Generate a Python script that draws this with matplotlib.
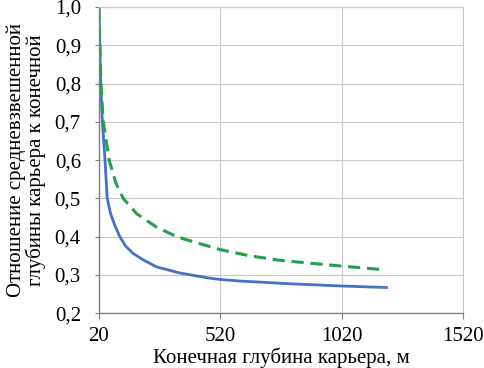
import numpy as np
import matplotlib
matplotlib.use("Agg")
import matplotlib.pyplot as plt
from matplotlib.ticker import FuncFormatter

# Данные
depth_blue = [20, 27, 34, 45, 54, 68, 85, 106, 130, 161, 200, 257, 353, 470, 520, 600, 800, 1020, 1204]
ratio_blue = [1.0, 0.8, 0.7, 0.6, 0.5, 0.46, 0.43, 0.4, 0.375, 0.356, 0.34, 0.321, 0.305,
              0.292, 0.288, 0.284, 0.277, 0.271, 0.267]

depth_green = [20, 28, 38, 62, 90, 120, 175, 257, 326, 374, 520, 640, 765, 900, 1020, 1185]
ratio_green = [1.0, 0.8, 0.7, 0.6, 0.54, 0.5, 0.46, 0.425, 0.404, 0.393, 0.366, 0.35,
               0.338, 0.33, 0.323, 0.314]

x_ticks = [20, 520, 1020, 1520]
y_ticks = [0.2, 0.3, 0.4, 0.5, 0.6, 0.7, 0.8, 0.9, 1.0]

plt.rcParams['font.family'] = 'serif'
plt.rcParams['font.serif'] = ['Liberation Serif', 'DejaVu Serif']

fig = plt.figure(figsize=(4.85, 3.68), dpi=100)
ax = fig.add_axes([0.204, 0.149, 0.751, 0.832])

ax.plot(depth_blue, ratio_blue, color='#4472C4', lw=2.0, solid_joinstyle='round')
ax.plot(depth_green, ratio_green, color='#22A04B', lw=2.2, dashes=(4, 2.2))

ax.set_xlim(20, 1520)
ax.set_ylim(0.2, 1.0)
ax.set_xticks(x_ticks)
ax.set_yticks(y_ticks)
ax.yaxis.set_major_formatter(FuncFormatter(lambda v, p: f"{v:.1f}".replace('.', ',')))
ax.grid(True, color='#C8C8C8', lw=0.8)
ax.set_axisbelow(True)

for s in ['top', 'right']:
    ax.spines[s].set_color('#C8C8C8')
for s in ['left', 'bottom']:
    ax.spines[s].set_color('#808080')
    ax.spines[s].set_linewidth(1.0)

ax.tick_params(axis='both', labelsize=15, color='#808080', direction='out')
ax.tick_params(axis='y', length=3, pad=10)
ax.tick_params(axis='x', length=4, pad=6)
ax.set_xlabel('Конечная глубина карьера, м', fontsize=15, labelpad=1)
ax.set_ylabel('Отношение средневзвешенной\nглубины карьера к конечной', fontsize=15,
              labelpad=6, linespacing=1.0)

fig.savefig('out.png', dpi=100)
